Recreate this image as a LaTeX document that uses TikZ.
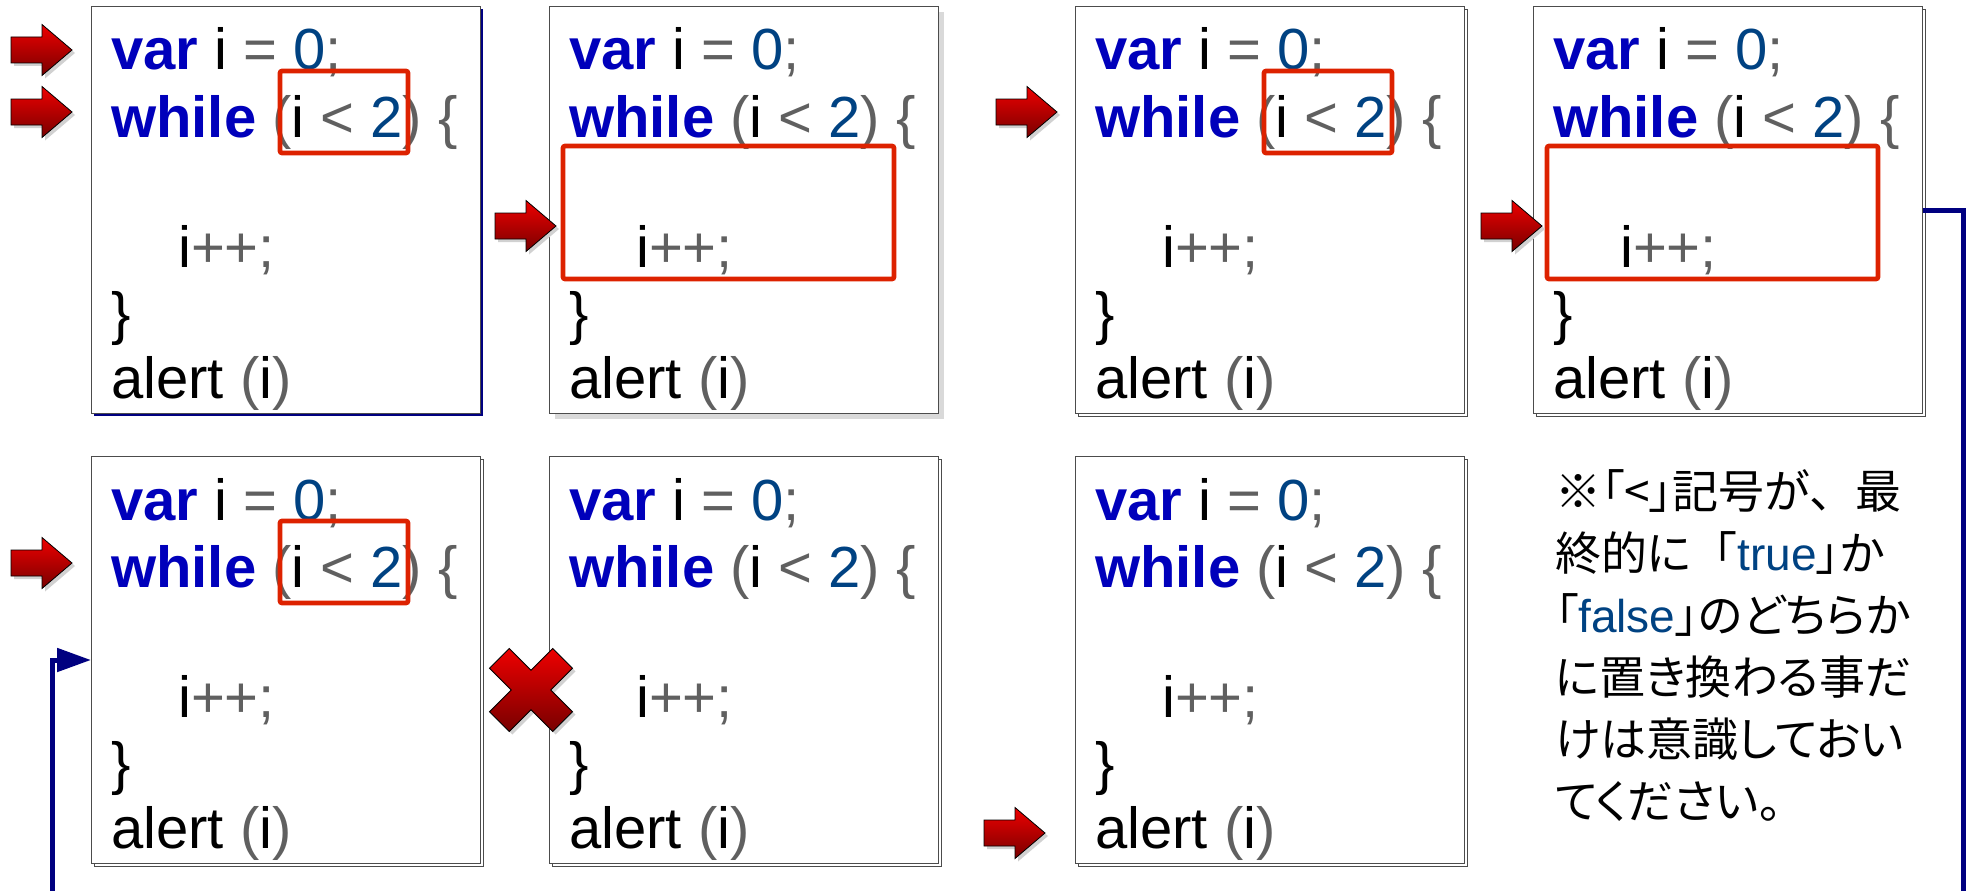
\documentclass[tikz,border=0pt]{standalone}
\usepackage{fontspec}
\setmainfont{Liberation Sans}
\newfontfamily\jpfont[RawFeature=+palt]{Noto Sans CJK JP}
\newfontfamily\jpfull{Noto Sans CJK JP}
\usetikzlibrary{calc,shadows,arrows.meta}
\definecolor{kwblue}{RGB}{0,0,187}
\definecolor{numblue}{RGB}{0,66,130}
\definecolor{pgrey}{RGB}{96,96,96}
\definecolor{boxred}{RGB}{221,34,0}
\definecolor{navyline}{RGB}{0,0,128}
\definecolor{artop}{RGB}{238,0,0}
\definecolor{arbot}{RGB}{120,0,0}
\newcommand\cKW[1]{\textbf{\color{kwblue}#1}}
\newcommand\cGR[1]{{\color{pgrey}#1}}
\newcommand\cNM[1]{{\color{numblue}#1}}
\tikzset{
  panel/.style={draw=black!70, line width=1.2pt, fill=white, minimum width=389pt,
    minimum height=407pt, anchor=north west, inner sep=0pt},
  dblshadow/.style={copy shadow={shadow xshift=3pt, shadow yshift=-3pt, draw=black!70, fill=white}},
  navyshadow/.style={drop shadow={shadow xshift=2.5pt, shadow yshift=-2.5pt, fill=navyline, opacity=1}},
  softshadow/.style={drop shadow={shadow xshift=5pt, shadow yshift=-5pt, fill=black!15, opacity=1}},
  code/.style={anchor=base west, inner sep=0pt, font=\fontsize{58}{66}\selectfont},
  hl/.style={draw=boxred, line width=4.6pt, rounded corners=2pt},
  jp/.style={anchor=base west, inner sep=0pt, font=\jpfont\fontsize{46}{62}\selectfont},
  arrowfill/.style={top color=artop, bottom color=arbot, draw=black, line width=0.8pt},
  arrowshade/.style={fill=black!18},
}
\newcommand\codepanel[4]{%
  \node[panel,#4] (#1) at (#2,#3) {};
  \node[code] (#1-l1) at ($(#1.north west)+(20,64)$) {\cKW{var} i \cGR{=} \cNM{0}\cGR{;}};
  \node[code] (#1-l2) at ($(#1.north west)+(20,131)$) {\cKW{while} \cGR{(}i \cGR{<} \cNM{2}\cGR{)} \cGR{\{}};
  \node[code] (#1-l3) at ($(#1.north west)+(87,261)$) {i\cGR{++;}};
  \node[code] (#1-l4) at ($(#1.north west)+(20,327)$) {\}};
  \node[code] (#1-l5) at ($(#1.north west)+(20,392)$) {alert \cGR{(}i\cGR{)}};
}
\newcommand\redarrow[3]{%
  \coordinate (#1) at (#2,#3);
  \path[arrowshade] ($(#1)+(3,3)$) -- ++(-30,-25.5) -- ++(0,12.5) -- ++(-31,0) -- ++(0,26) -- ++(31,0) -- ++(0,12.5) -- cycle;
  \path[arrowfill] (#1) -- ++(-30,-25.5) -- ++(0,12.5) -- ++(-31,0) -- ++(0,26) -- ++(31,0) -- ++(0,12.5) -- cycle;
}
\newcommand\smallbox[1]{\draw[hl] ($(#1.north west)+(189,65)$) rectangle ($(#1.north west)+(317,147)$);}
\newcommand\bigbox[1]{\draw[hl] ($(#1.north west)+(14,140)$) rectangle ($(#1.north west)+(345,273)$);}
\begin{document}
\begin{tikzpicture}[x=1pt,y=-1pt]
\useasboundingbox[fill=white] (0,0) rectangle (1971,891);
% panels
\codepanel{p1}{91}{6}{navyshadow}
\codepanel{p2}{549}{6}{softshadow}
\codepanel{p3}{1075}{6}{dblshadow}
\codepanel{p4}{1533}{6}{dblshadow}
\codepanel{p5}{91}{456}{dblshadow}
\codepanel{p6}{549}{456}{dblshadow}
\codepanel{p7}{1075}{456}{dblshadow}
% highlight boxes
\smallbox{p1}
\bigbox{p2}
\smallbox{p3}
\bigbox{p4}
\smallbox{p5}
% red arrows
\redarrow{a1}{72}{50}
\redarrow{a2}{72}{112}
\redarrow{a3}{556}{226}
\redarrow{a4}{1057}{112}
\redarrow{a5}{1542}{226}
\redarrow{a6}{72}{563}
\redarrow{a7}{1045}{833}
% cross mark
\coordinate (xm) at (531,690);
\begin{scope}[shift={(534,693)}]
\fill[black!18] (0,19.8) -- (21.7,41.5) -- (41.5,21.7) -- (19.8,0) -- (41.5,-21.7) -- (21.7,-41.5) -- (0,-19.8) -- (-21.7,-41.5) -- (-41.5,-21.7) -- (-19.8,0) -- (-41.5,21.7) -- (-21.7,41.5) -- cycle;
\end{scope}
\begin{scope}[shift={(531,690)}]
\path[arrowfill] (0,19.8) -- (21.7,41.5) -- (41.5,21.7) -- (19.8,0) -- (41.5,-21.7) -- (21.7,-41.5) -- (0,-19.8) -- (-21.7,-41.5) -- (-41.5,-21.7) -- (-19.8,0) -- (-41.5,21.7) -- (-21.7,41.5) -- cycle;
\end{scope}
% loop-back connector
\begin{scope}
\clip (0,0) rectangle (1971,891);
\draw[navyline, line width=5pt, -{Triangle[length=34pt,width=23pt]}]
  ($(p4.north east)+(0,204)$) -- (1963,210) -- (1963,930) -- (52,930) -- (52,660) -- ($(p5.north west)+(0,204)$);
\end{scope}
% note
\node[jp] (n1) at (1555,508) {※「<」記号が{\jpfull 、}最};
\node[jp] (n2) at (1555,570) {終的に{\jpfull 「}{\rmfamily\color{numblue}true}」か};
\node[jp] (n3) at (1555,632) {「{\rmfamily\color{numblue}false}」のどちらか};
\node[jp] (n4) at (1555,694) {に置き換わる事だ};
\node[jp] (n5) at (1555,756) {けは意識しておい};
\node[jp] (n6) at (1555,818) {てください。};
\end{tikzpicture}
\end{document}
